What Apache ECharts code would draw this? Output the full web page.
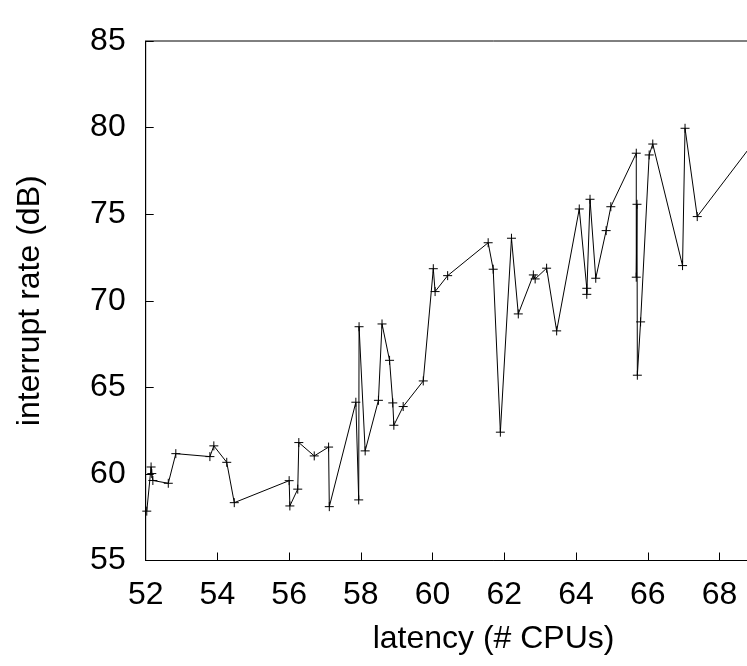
<!DOCTYPE html>
<html>
<head>
<meta charset="utf-8">
<script src="https://cdn.jsdelivr.net/npm/echarts@6/dist/echarts.min.js"></script>
<style>
html,body{margin:0;padding:0;background:#fff;overflow:hidden;width:747px;height:666px;}
#chart{width:900px;height:666px;}
</style>
</head>
<body>
<div id="chart"></div>
<script>
// latency (# CPUs)
var xValues = [52.03, 52.15, 52.17, 52.20, 52.63, 52.84, 53.79, 53.90, 54.26, 54.47,
  56.00, 56.02, 56.24, 56.27, 56.70, 57.10, 57.12, 57.86, 57.94, 57.95,
  58.12, 58.49, 58.59, 58.80, 58.89, 58.92, 59.18, 59.74, 60.02, 60.07,
  60.42, 61.55, 61.69, 61.89, 62.20, 62.39, 62.81, 62.86, 63.18, 63.46,
  64.09, 64.30, 64.30, 64.39, 64.55, 64.84, 64.97, 65.68, 65.68, 65.70,
  65.71, 65.80, 66.04, 66.14, 66.97, 67.04, 67.38, 69.60];
// interrupt rate (dB)
var yValues = [57.85, 60.40, 60.02, 59.62, 59.46, 61.17, 61.00, 61.62, 60.67, 58.34,
  59.61, 58.15, 59.12, 61.81, 61.04, 61.55, 58.11, 64.14, 58.50, 68.50,
  61.33, 64.25, 68.66, 66.56, 64.10, 62.81, 63.89, 65.37, 71.85, 70.53,
  71.45, 73.35, 71.82, 62.41, 73.61, 69.24, 71.49, 71.26, 71.88, 68.26,
  75.30, 70.72, 70.37, 75.86, 71.30, 74.05, 75.43, 78.52, 71.36, 75.57,
  65.70, 68.78, 78.42, 79.05, 72.03, 79.96, 74.86, 80.90];
var xTitle = 'latency (# CPUs)';
var yTitle = 'interrupt rate (dB)';

var points = xValues.map(function (x, i) { return [x, yValues[i]]; });

var chart = echarts.init(document.getElementById('chart'), null, {renderer: 'canvas', width: 900, height: 666});
var font = 'Liberation Sans, Arial, Helvetica, sans-serif';
chart.setOption({
  animation: false,
  backgroundColor: '#fff',
  grid: {
    left: 145.7, top: 41, bottom: 105.5, right: 58.6,
    show: true, borderColor: '#000', borderWidth: 1, backgroundColor: 'transparent',
    containLabel: false
  },
  xAxis: {
    type: 'value', min: 52, max: 71.4, interval: 2,
    name: xTitle, nameLocation: 'middle', nameGap: 63,
    nameTextStyle: {fontFamily: font, fontSize: 32, color: '#000'},
    axisLine: {show: true, onZero: false, lineStyle: {color: '#000', width: 1}},
    axisTick: {show: true, inside: true, length: 8, lineStyle: {color: '#000', width: 1}},
    axisLabel: {show: true, margin: 19, fontFamily: font, fontSize: 32, color: '#000',
      showMaxLabel: false,
      formatter: function (v) { return Math.abs(v - Math.round(v)) < 1e-6 ? String(Math.round(v)) : ''; }},
    splitLine: {show: false}
  },
  yAxis: {
    type: 'value', min: 55, max: 85, interval: 5,
    name: yTitle, nameLocation: 'middle', nameGap: 100, nameRotate: 90,
    nameTextStyle: {fontFamily: font, fontSize: 32, color: '#000'},
    axisLine: {show: true, onZero: false, lineStyle: {color: '#000', width: 1}},
    axisTick: {show: true, inside: true, length: 8, lineStyle: {color: '#000', width: 1}},
    axisLabel: {show: true, margin: 20, fontFamily: font, fontSize: 32, color: '#000',
      padding: [4, 0, 0, 0]},
    splitLine: {show: false}
  },
  series: [{
    type: 'line',
    data: points,
    clip: true,
    symbol: 'path://M5,0L5,10M0,5L10,5',
    symbolSize: 9,
    showAllSymbol: true,
    itemStyle: {color: 'transparent', borderColor: '#000', borderWidth: 1},
    lineStyle: {color: '#000', width: 1},
    emphasis: {disabled: true}
  }]
});
</script>
</body>
</html>
